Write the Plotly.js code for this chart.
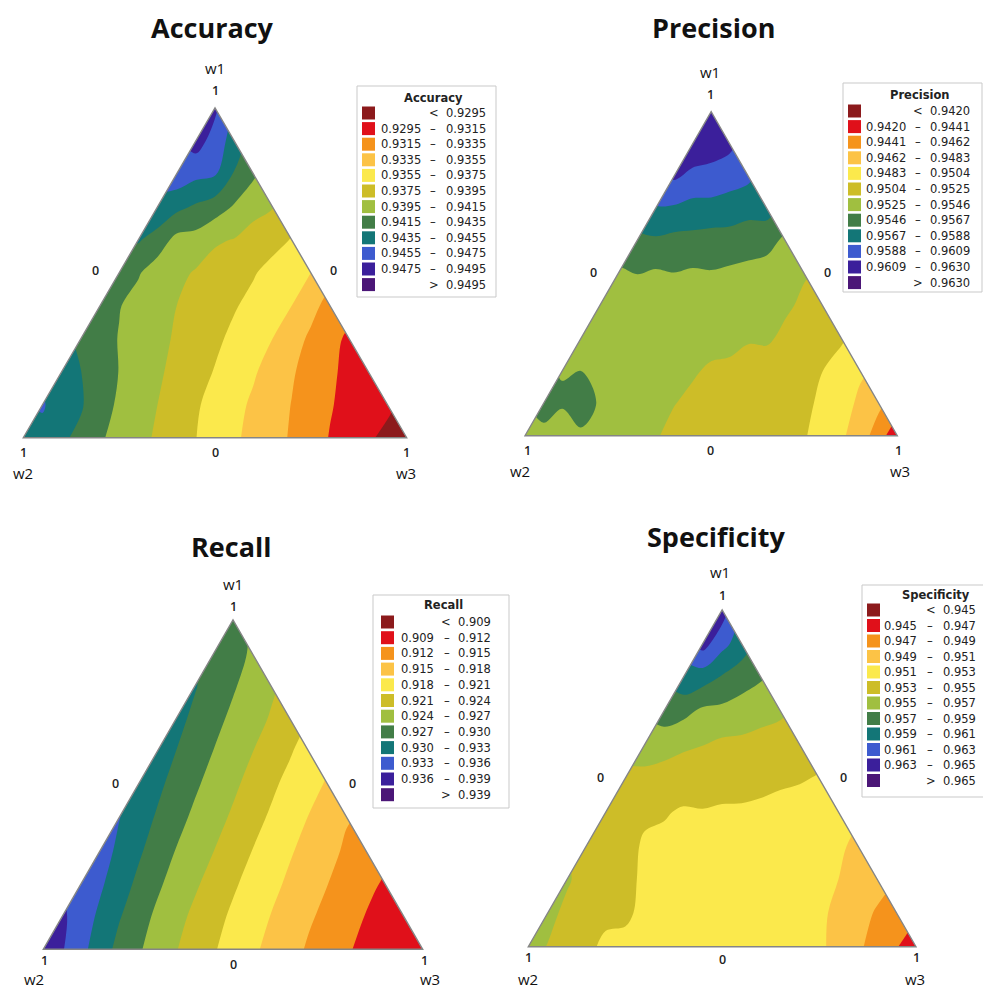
<!DOCTYPE html>
<html><head><meta charset="utf-8">
<script src="https://cdn.plot.ly/plotly-3.0.1.min.js"></script>
<style>html,body{margin:0;padding:0;background:#fff}#chart{width:983px;height:990px}</style>
</head><body><div id="chart"></div>
<script>
// ---------------- DATA ----------------
// Simplex lattice with step 0.1. Row r: w1 = r/10; entries run w3 = 0, 0.1, ... ; w2 = 1 - w1 - w3
const latticeSteps = 10;
const componentNames = ['w1', 'w2', 'w3'];

const accuracyGrid = [
  [0.9452, 0.9438, 0.9417, 0.9400, 0.9383, 0.9366, 0.9349, 0.9333, 0.9314, 0.9302, 0.9240],
  [0.9457, 0.9437, 0.9412, 0.9395, 0.9377, 0.9360, 0.9343, 0.9325, 0.9309, 0.9305],
  [0.9446, 0.9426, 0.9406, 0.9390, 0.9374, 0.9357, 0.9337, 0.9318, 0.9304],
  [0.9432, 0.9414, 0.9400, 0.9386, 0.9371, 0.9355, 0.9331, 0.9311],
  [0.9425, 0.9408, 0.9395, 0.9383, 0.9370, 0.9355, 0.9327],
  [0.9417, 0.9405, 0.9393, 0.9382, 0.9369, 0.9355],
  [0.9437, 0.9409, 0.9397, 0.9385, 0.9374],
  [0.9452, 0.9432, 0.9413, 0.9396],
  [0.9468, 0.9457, 0.9418],
  [0.9484, 0.9446],
  [0.9479]
];
const precisionGrid = [
  [0.9530, 0.9535, 0.9533, 0.9528, 0.9521, 0.9518, 0.9515, 0.9511, 0.9497, 0.9471, 0.9422],
  [0.9555, 0.9558, 0.9540, 0.9530, 0.9522, 0.9518, 0.9513, 0.9508, 0.9492, 0.9466],
  [0.9545, 0.9543, 0.9535, 0.9529, 0.9523, 0.9518, 0.9513, 0.9504, 0.9486],
  [0.9538, 0.9537, 0.9535, 0.9532, 0.9529, 0.9527, 0.9520, 0.9506],
  [0.9537, 0.9537, 0.9536, 0.9535, 0.9532, 0.9527, 0.9517],
  [0.9543, 0.9543, 0.9543, 0.9542, 0.9538, 0.9526],
  [0.9563, 0.9560, 0.9558, 0.9553, 0.9542],
  [0.9587, 0.9580, 0.9578, 0.9575],
  [0.9612, 0.9603, 0.9592],
  [0.9622, 0.9614],
  [0.9630]
];
const recallGrid = [
  [0.9385, 0.9337, 0.9290, 0.9253, 0.9223, 0.9196, 0.9171, 0.9146, 0.9122, 0.9105, 0.9093],
  [0.9365, 0.9324, 0.9282, 0.9249, 0.9219, 0.9192, 0.9166, 0.9142, 0.9119, 0.9097],
  [0.9356, 0.9314, 0.9275, 0.9244, 0.9214, 0.9188, 0.9162, 0.9139, 0.9117],
  [0.9344, 0.9305, 0.9269, 0.9240, 0.9210, 0.9183, 0.9158, 0.9134],
  [0.9331, 0.9297, 0.9264, 0.9236, 0.9206, 0.9179, 0.9152],
  [0.9322, 0.9290, 0.9259, 0.9231, 0.9201, 0.9177],
  [0.9316, 0.9284, 0.9255, 0.9226, 0.9196],
  [0.9309, 0.9278, 0.9251, 0.9228],
  [0.9302, 0.9273, 0.9245],
  [0.9290, 0.9267],
  [0.9283]
];
const specificityGrid = [
  [0.9556, 0.9537, 0.9526, 0.9523, 0.9522, 0.9521, 0.9520, 0.9518, 0.9506, 0.9480, 0.9456],
  [0.9555, 0.9540, 0.9532, 0.9526, 0.9523, 0.9522, 0.9520, 0.9513, 0.9497, 0.9478],
  [0.9552, 0.9540, 0.9528, 0.9524, 0.9522, 0.9521, 0.9519, 0.9510, 0.9497],
  [0.9542, 0.9532, 0.9526, 0.9524, 0.9523, 0.9522, 0.9518, 0.9507],
  [0.9542, 0.9531, 0.9528, 0.9528, 0.9527, 0.9524, 0.9514],
  [0.9546, 0.9541, 0.9537, 0.9535, 0.9532, 0.9529],
  [0.9560, 0.9553, 0.9546, 0.9543, 0.9540],
  [0.9580, 0.9566, 0.9560, 0.9553],
  [0.9605, 0.9588, 0.9572],
  [0.9638, 0.9600],
  [0.9640]
];

const accuracyLevels    = [0.9295, 0.9315, 0.9335, 0.9355, 0.9375, 0.9395, 0.9415, 0.9435, 0.9455, 0.9475, 0.9495];
const precisionLevels   = [0.9420, 0.9441, 0.9462, 0.9483, 0.9504, 0.9525, 0.9546, 0.9567, 0.9588, 0.9609, 0.9630];
const recallLevels      = [0.909, 0.912, 0.915, 0.918, 0.921, 0.924, 0.927, 0.930, 0.933, 0.936, 0.939];
const specificityLevels = [0.945, 0.947, 0.949, 0.951, 0.953, 0.955, 0.957, 0.959, 0.961, 0.963, 0.965];

const accuracyLabels    = accuracyLevels.map(v => v.toFixed(4));
const precisionLabels   = precisionLevels.map(v => v.toFixed(4));
const recallLabels      = recallLevels.map(v => v.toFixed(3));
const specificityLabels = specificityLevels.map(v => v.toFixed(3));

const metricNames = ['Accuracy', 'Precision', 'Recall', 'Specificity'];

// ---------------- STYLE ----------------
const bandColors = ['#8c1a1c', '#e0101a', '#f5931c', '#fcc346', '#fbe94c', '#cdbd28',
                    '#a0bf40', '#427d47', '#137677', '#3d5bcf', '#3b1f9b', '#4b1677'];
const W = 983, H = 990;
const px = x => x / W;
const py = y => 1 - y / H;

const panelStyle = [
  { tri: {L: 23.3, R: 406.7, B: 437.7, T: 108},
    title: [212, 28],
    labels: {w1: [215, 68], top: [215, 90], left: [95, 270], right: [333, 270],
             bl: [23, 452], w2: [23, 473], bottom: [215, 452], br: [406, 452], w3: [406, 473]},
    legend: {x0: 357, x1: 496, y0: 86, y1: 297, tx: 433, ty: 98, row0: 113, step: 15.6,
             sw: 362, lowR: 422, dash: 433, upR: 487} },
  { tri: {L: 525, R: 897.3, B: 435.7, T: 111.7},
    title: [713, 28],
    labels: {w1: [710, 72], top: [710, 95], left: [593, 272], right: [827, 272],
             bl: [527, 450], w2: [520, 471], bottom: [710, 450], br: [898, 450], w3: [900, 471]},
    legend: {x0: 843, x1: 982, y0: 83, y1: 292, tx: 920, ty: 95, row0: 111, step: 15.6,
             sw: 848, lowR: 907, dash: 918, upR: 971} },
  { tri: {L: 43.3, R: 422.7, B: 949.3, T: 620},
    title: [231, 546],
    labels: {w1: [233, 584], top: [233, 606], left: [115, 783], right: [352, 783],
             bl: [44, 960], w2: [34, 979], bottom: [233, 964], br: [424, 960], w3: [430, 979]},
    legend: {x0: 373, x1: 509, y0: 595, y1: 808, tx: 443, ty: 605, row0: 622, step: 15.7,
             sw: 381, lowR: 435, dash: 447, upR: 492} },
  { tri: {L: 528.3, R: 916, B: 946.7, T: 610},
    title: [716, 536],
    labels: {w1: [720, 572], top: [722, 595], left: [600, 777], right: [843, 777],
             bl: [528, 957], w2: [528, 979], bottom: [722, 959], br: [916, 957], w3: [915, 979]},
    legend: {x0: 862, x1: 992, y0: 585, y1: 797, tx: 936, ty: 595, row0: 610, step: 15.5,
             sw: 867, lowR: 918, dash: 930, upR: 977} }
];

const grids = [accuracyGrid, precisionGrid, recallGrid, specificityGrid];
const levelSets = [accuracyLevels, precisionLevels, recallLevels, specificityLevels];
const labelSets = [accuracyLabels, precisionLabels, recallLabels, specificityLabels];

// stepwise colour scale, one colour per band
const colorscale = [];
bandColors.forEach((c, k) => {
  colorscale.push([k / bandColors.length, c]);
  colorscale.push([(k + 1) / bandColors.length, c]);
});

const traces = [];
const annotations = [];
const shapes = [];
const layout = {
  width: W, height: H, margin: {l: 0, r: 0, t: 0, b: 0},
  paper_bgcolor: '#fff', plot_bgcolor: 'rgba(0,0,0,0)',
  font: {family: 'Open Sans, sans-serif', color: '#111'},
  showlegend: false
};

function txt(x, y, text, size, opts) {
  annotations.push(Object.assign({
    xref: 'paper', yref: 'paper', x: px(x), y: py(y), text: text, showarrow: false,
    xanchor: 'center', yanchor: 'middle', borderpad: 0,
    font: {size: size, color: '#111', family: 'Open Sans, sans-serif'}
  }, opts || {}));
}

const S = latticeSteps;
const tickFont = {size: 12.5, color: '#222', family: 'Open Sans, sans-serif', weight: 600};
const legFont = {size: 11.5, color: '#222', family: 'DejaVu Sans, sans-serif'};
const legTitleFont = {size: 11.5, color: '#222', family: 'DejaVu Sans, sans-serif', weight: 'bold'};

grids.forEach((grid, idx) => {
  const st = panelStyle[idx];
  const levels = levelSets[idx];
  const labels = labelSets[idx];
  const n = idx + 1;
  const ax = n === 1 ? '' : String(n);
  const xs = [], ys = [], zs = [];
  grid.forEach((row, i) => row.forEach((v, j) => {
    xs.push(2 * j + i);   // horizontal position in half-steps
    ys.push(i);           // row index = 10 * w1
    zs.push(v);
  }));
  const last = levels.length - 1;
  traces.push({
    type: 'contour', x: xs, y: ys, z: zs,
    xaxis: 'x' + ax, yaxis: 'y' + ax,
    connectgaps: true, autocontour: false,
    contours: {start: levels[0], end: levels[last], size: (levels[last] - levels[0]) / last,
               coloring: 'fill', showlines: false},
    line: {width: 0, smoothing: 1.0},
    colorscale: colorscale, showscale: false, hoverinfo: 'skip'
  });

  const t = st.tri;
  const sx = (t.R - t.L) / (2 * S), sy = (t.B - t.T) / S;
  layout['xaxis' + ax] = {domain: [px(t.L - 0.5 * sx), px(t.R + 0.5 * sx)], range: [-0.5, 2 * S + 0.5],
                          visible: false, fixedrange: true, anchor: 'y' + ax};
  layout['yaxis' + ax] = {domain: [py(t.B + 0.3 * sy), py(t.T - 0.3 * sy)], range: [-0.3, S + 0.3],
                          visible: false, fixedrange: true, anchor: 'x' + ax};

  // white masks outside the simplex
  shapes.push({type: 'path', xref: 'x' + ax, yref: 'y' + ax,
    path: `M -1,-0.01 L 0,-0.01 L ${S},${S} L ${S},${S + 1} L -1,${S + 1} Z`,
    fillcolor: '#fff', line: {width: 0}});
  shapes.push({type: 'path', xref: 'x' + ax, yref: 'y' + ax,
    path: `M ${2 * S + 1},-0.01 L ${2 * S},-0.01 L ${S},${S} L ${S},${S + 1} L ${2 * S + 1},${S + 1} Z`,
    fillcolor: '#fff', line: {width: 0}});
  // simplex outline
  shapes.push({type: 'path', xref: 'x' + ax, yref: 'y' + ax,
    path: `M 0,0 L ${2 * S},0 L ${S},${S} Z`,
    fillcolor: 'rgba(0,0,0,0)', line: {color: '#858585', width: 1.4}});

  // titles and vertex / axis labels
  txt(st.title[0], st.title[1], '<b>' + metricNames[idx] + '</b>', 27);
  const lb = st.labels;
  txt(lb.w1[0], lb.w1[1], componentNames[0], 15);
  txt(lb.w2[0], lb.w2[1], componentNames[1], 15);
  txt(lb.w3[0], lb.w3[1], componentNames[2], 15);
  ['top', 'bl', 'br'].forEach(k => txt(lb[k][0], lb[k][1], '1', 12.5, {font: tickFont}));
  ['left', 'right', 'bottom'].forEach(k => txt(lb[k][0], lb[k][1], '0', 12.5, {font: tickFont}));

  // legend box
  const lg = st.legend;
  shapes.push({type: 'rect', xref: 'paper', yref: 'paper', x0: px(lg.x0), x1: px(lg.x1), y0: py(lg.y1), y1: py(lg.y0),
    line: {color: '#c9c9c9', width: 1}, fillcolor: '#fff'});
  txt(lg.tx, lg.ty, metricNames[idx], 11.5, {font: legTitleFont});
  for (let k = 0; k <= labels.length; k++) {
    const yy = lg.row0 + k * lg.step;
    shapes.push({type: 'rect', xref: 'paper', yref: 'paper', x0: px(lg.sw), x1: px(lg.sw + 13),
      y0: py(yy + 6.5), y1: py(yy - 6.5), fillcolor: bandColors[k], line: {width: 0}});
    if (k === 0) {
      txt(lg.upR, yy, '&lt;  ' + labels[0], 11.5, {xanchor: 'right', font: legFont});
    } else if (k === labels.length) {
      txt(lg.upR, yy, '&gt;  ' + labels[labels.length - 1], 11.5, {xanchor: 'right', font: legFont});
    } else {
      txt(lg.lowR, yy, labels[k - 1], 11.5, {xanchor: 'right', font: legFont});
      txt(lg.dash, yy, '–', 11.5, {font: legFont});
      txt(lg.upR, yy, labels[k], 11.5, {xanchor: 'right', font: legFont});
    }
  }
});

layout.annotations = annotations;
layout.shapes = shapes;
Plotly.newPlot('chart', traces, layout, {staticPlot: true, displayModeBar: false});
</script>
</body></html>
